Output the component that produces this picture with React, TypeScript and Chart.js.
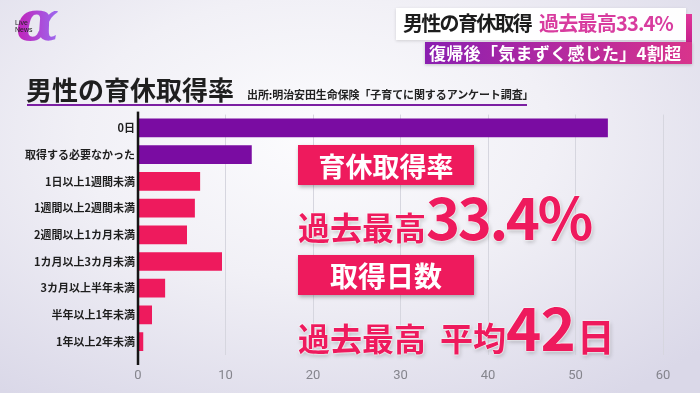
import React, { useEffect, useRef } from "react";
import { Chart, registerables } from "chart.js";

Chart.register(...registerables);

const categories = [
  "0日",
  "取得する必要なかった",
  "1日以上1週間未満",
  "1週間以上2週間未満",
  "2週間以上1カ月未満",
  "1カ月以上3カ月未満",
  "3カ月以上半年未満",
  "半年以上1年未満",
  "1年以上2年未満",
];
const values = [53.7, 13.0, 7.1, 6.5, 5.6, 9.6, 3.1, 1.6, 0.6];
const xTicks = [0, 10, 20, 30, 40, 50, 60];

const JP = '"Noto Sans CJK JP", "Noto Sans", sans-serif';
const PURPLE = "#7a0ca2";
const PINK = "#ee1a5d";

const axisLinePlugin = {
  id: "axisLine",
  afterDatasetsDraw(chart: any) {
    const { ctx, chartArea } = chart;
    ctx.save();
    ctx.strokeStyle = "#151515";
    ctx.lineWidth = 2.5;
    ctx.beginPath();
    ctx.moveTo(chartArea.left, chartArea.top - 3);
    ctx.lineTo(chartArea.left, chartArea.bottom + 10);
    ctx.stroke();
    ctx.restore();
  },
};

export default function App() {
  const ref = useRef<HTMLCanvasElement | null>(null);

  useEffect(() => {
    if (!ref.current) return;
    const chart = new Chart(ref.current, {
      type: "bar",
      data: {
        labels: categories,
        datasets: [
          {
            data: values,
            backgroundColor: values.map((_, i) => (i < 2 ? PURPLE : PINK)),
            borderWidth: 0,
            categoryPercentage: 1,
            barPercentage: 0.7,
          },
        ],
      },
      options: {
        indexAxis: "y",
        animation: false,
        responsive: false,
        maintainAspectRatio: false,
        layout: { padding: { top: 8, right: 37, left: 0, bottom: 0 } },
        plugins: { legend: { display: false }, tooltip: { enabled: false } },
        scales: {
          x: {
            min: 0,
            max: 60,
            afterBuildTicks: (scale: any) => {
              scale.ticks = xTicks.map((v) => ({ value: v }));
            },
            afterFit: (scale: any) => {
              scale.height = 38;
            },
            border: { display: false },
            grid: {
              drawTicks: false,
              color: (c: any) => (c.tick && c.tick.value === 0 ? "rgba(0,0,0,0)" : "#d6d6df"),
              lineWidth: 1,
            },
            ticks: {
              padding: 13,
              color: "#85858d",
              font: { family: "Roboto, 'Noto Sans', sans-serif", size: 13 },
            },
          },
          y: {
            afterFit: (scale: any) => {
              scale.width = 138;
            },
            border: { display: false },
            grid: { display: false, drawTicks: false },
            ticks: {
              padding: 3,
              color: "#1e1e1e",
              font: { family: JP, size: 11, weight: "bold" },
            },
          },
        },
      },
      plugins: [axisLinePlugin],
    } as any);
    return () => chart.destroy();
  }, []);

  const abs = (s: React.CSSProperties): React.CSSProperties => ({ position: "absolute", ...s });
  const pinkText: React.CSSProperties = {
    color: PINK,
    fontFamily: JP,
    fontWeight: 700,
    lineHeight: 1,
    textShadow: "0 0 2px #fff, 0 0 2px #fff, 0 0 1px #fff, 1px 2px 4px rgba(0,0,0,0.25)",
    whiteSpace: "nowrap",
  };
  const box: React.CSSProperties = {
    position: "absolute",
    background: PINK,
    color: "#fff",
    fontFamily: JP,
    fontWeight: 700,
    display: "flex",
    alignItems: "center",
    justifyContent: "center",
    boxShadow: "1px 2px 4px rgba(0,0,0,0.3)",
    lineHeight: 1,
  };

  return (
    <div
      style={{
        position: "fixed",
        left: 0,
        top: 0,
        width: 700,
        height: 393,
        overflow: "hidden",
        background:
          "radial-gradient(ellipse 75% 80% at 45% 35%, #fcfcfe 0%, #f1f0f6 45%, #dad8e8 100%)",
      }}
    >
      {/* logo */}
      <div
        style={abs({
          left: 16,
          top: -8,
          fontSize: 56,
          fontStyle: "italic",
          fontWeight: 700,
          fontFamily: "'DejaVu Serif', serif",
          lineHeight: 1,
          background: "linear-gradient(90deg, #c21fb8, #9b6cf0)",
          WebkitBackgroundClip: "text",
          backgroundClip: "text",
          color: "transparent",
        })}
      >
        α
      </div>
      <div style={abs({ left: 15, top: 19, fontSize: 7, lineHeight: "7px", color: "#222", fontFamily: "'Liberation Sans', sans-serif" })}>
        Live
        <br />
        News
      </div>

      {/* top-right banners */}
      <div
        style={abs({
          left: 396,
          top: 8,
          width: 290,
          height: 32,
          background: "rgba(255,255,255,0.95)",
          boxShadow: "0 1px 3px rgba(0,0,0,0.15)",
        })}
      />
      <div style={abs({ left: 686, top: 14, width: 6, height: 28, background: "linear-gradient(180deg,#e0379a,#c6208c)" })} />
      <div
        style={abs({
          left: 403,
          top: 13,
          fontFamily: JP,
          fontWeight: 700,
          fontSize: 20,
          lineHeight: 1,
          whiteSpace: "nowrap",
          display: "flex",
          alignItems: "baseline",
        })}
      >
        <span style={{ color: "#1d1d1d", letterSpacing: -1.7 }}>男性の育休取得</span>
        <span style={{ color: "#d83c9f", marginLeft: 8, letterSpacing: -0.8 }}>過去最高33.4%</span>
      </div>
      <div
        style={abs({
          left: 425,
          top: 42,
          width: 267,
          height: 22,
          background: "linear-gradient(90deg,#8a1fb0 0%,#b32aa0 50%,#d8348c 100%)",
          boxShadow: "0 1px 3px rgba(0,0,0,0.2)",
        })}
      />
      <div
        style={abs({
          left: 429,
          top: 44,
          color: "#fff",
          fontFamily: JP,
          fontWeight: 700,
          fontSize: 17,
          lineHeight: 1,
          letterSpacing: 0.3,
          whiteSpace: "nowrap",
        })}
      >
        復帰後「気まずく感じた」4割超
      </div>

      {/* title */}
      <div style={abs({ left: 26, top: 76, fontFamily: JP, fontWeight: 700, fontSize: 26, lineHeight: 1, color: "#1f1f1f", whiteSpace: "nowrap" })}>
        男性の育休取得率
      </div>
      <div style={abs({ left: 247, top: 89, fontFamily: JP, fontWeight: 700, fontSize: 11, lineHeight: 1, color: "#222", whiteSpace: "nowrap", letterSpacing: -0.1 })}>
        出所:明治安田生命保険「子育てに関するアンケート調査」
      </div>
      <div style={abs({ left: 27, top: 104, width: 500, height: 2, background: "#7b1fa2" })} />

      {/* chart */}
      <canvas ref={ref} width={700} height={288} style={abs({ left: 0, top: 105, width: 700, height: 288 })} />

      {/* overlays */}
      <div style={{ ...box, left: 298, top: 145, width: 176, height: 40, fontSize: 27 }}>育休取得率</div>
      <div style={abs({ left: 298, top: 186, display: "flex", alignItems: "baseline", ...pinkText })}>
        <span style={{ fontSize: 32 }}>過去最高</span>
        <span style={{ fontSize: 58, letterSpacing: -2.5 }}>33.4%</span>
      </div>
      <div style={{ ...box, left: 298, top: 255, width: 176, height: 40, fontSize: 28 }}>取得日数</div>
      <div style={abs({ left: 298, top: 295, display: "flex", alignItems: "baseline", ...pinkText })}>
        <span style={{ fontSize: 32 }}>過去最高</span>
        <span style={{ fontSize: 33, marginLeft: 14 }}>平均</span>
        <span style={{ fontSize: 60, letterSpacing: -1 }}>42</span>
        <span style={{ fontSize: 38, marginLeft: 2 }}>日</span>
      </div>
    </div>
  );
}
